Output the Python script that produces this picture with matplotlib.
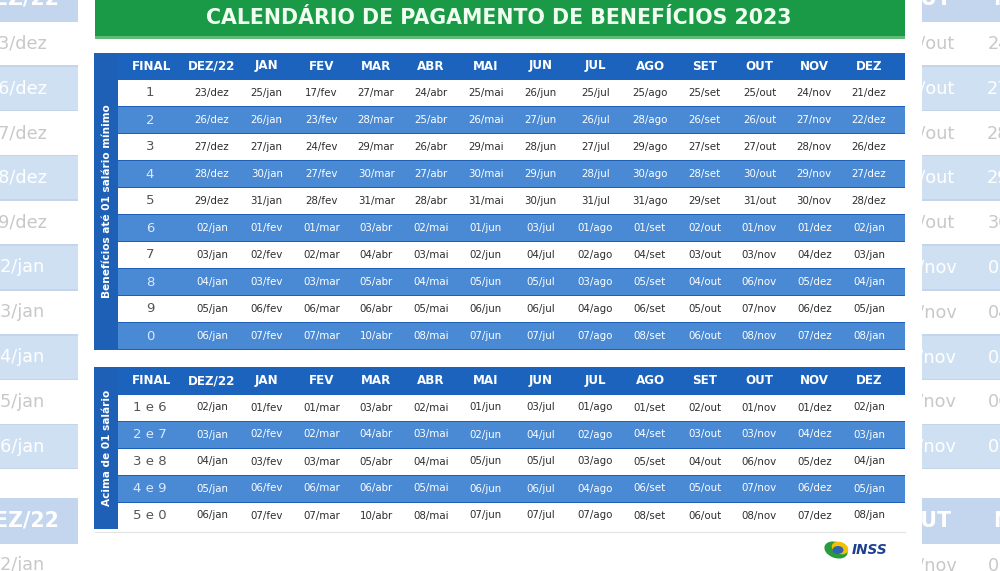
import matplotlib
matplotlib.use('Agg')
import matplotlib.pyplot as plt
from matplotlib.patches import Rectangle, Ellipse

title = 'CALENDÁRIO DE PAGAMENTO DE BENEFÍCIOS 2023'
months = ['DEZ/22', 'JAN', 'FEV', 'MAR', 'ABR', 'MAI', 'JUN', 'JUL', 'AGO', 'SET', 'OUT', 'NOV', 'DEZ']

label_minimo = 'Benefícios até 01 salário mínimo'
finals_minimo = ['1', '2', '3', '4', '5', '6', '7', '8', '9', '0']
pay_minimo = [
    ['23/dez', '25/jan', '17/fev', '27/mar', '24/abr', '25/mai', '26/jun', '25/jul', '25/ago', '25/set', '25/out', '24/nov', '21/dez'],
    ['26/dez', '26/jan', '23/fev', '28/mar', '25/abr', '26/mai', '27/jun', '26/jul', '28/ago', '26/set', '26/out', '27/nov', '22/dez'],
    ['27/dez', '27/jan', '24/fev', '29/mar', '26/abr', '29/mai', '28/jun', '27/jul', '29/ago', '27/set', '27/out', '28/nov', '26/dez'],
    ['28/dez', '30/jan', '27/fev', '30/mar', '27/abr', '30/mai', '29/jun', '28/jul', '30/ago', '28/set', '30/out', '29/nov', '27/dez'],
    ['29/dez', '31/jan', '28/fev', '31/mar', '28/abr', '31/mai', '30/jun', '31/jul', '31/ago', '29/set', '31/out', '30/nov', '28/dez'],
    ['02/jan', '01/fev', '01/mar', '03/abr', '02/mai', '01/jun', '03/jul', '01/ago', '01/set', '02/out', '01/nov', '01/dez', '02/jan'],
    ['03/jan', '02/fev', '02/mar', '04/abr', '03/mai', '02/jun', '04/jul', '02/ago', '04/set', '03/out', '03/nov', '04/dez', '03/jan'],
    ['04/jan', '03/fev', '03/mar', '05/abr', '04/mai', '05/jun', '05/jul', '03/ago', '05/set', '04/out', '06/nov', '05/dez', '04/jan'],
    ['05/jan', '06/fev', '06/mar', '06/abr', '05/mai', '06/jun', '06/jul', '04/ago', '06/set', '05/out', '07/nov', '06/dez', '05/jan'],
    ['06/jan', '07/fev', '07/mar', '10/abr', '08/mai', '07/jun', '07/jul', '07/ago', '08/set', '06/out', '08/nov', '07/dez', '08/jan'],
]

label_acima = 'Acima de 01 salário'
finals_acima = ['1 e 6', '2 e 7', '3 e 8', '4 e 9', '5 e 0']
pay_acima = [
    ['02/jan', '01/fev', '01/mar', '03/abr', '02/mai', '01/jun', '03/jul', '01/ago', '01/set', '02/out', '01/nov', '01/dez', '02/jan'],
    ['03/jan', '02/fev', '02/mar', '04/abr', '03/mai', '02/jun', '04/jul', '02/ago', '04/set', '03/out', '03/nov', '04/dez', '03/jan'],
    ['04/jan', '03/fev', '03/mar', '05/abr', '04/mai', '05/jun', '05/jul', '03/ago', '05/set', '04/out', '06/nov', '05/dez', '04/jan'],
    ['05/jan', '06/fev', '06/mar', '06/abr', '05/mai', '06/jun', '06/jul', '04/ago', '06/set', '05/out', '07/nov', '06/dez', '05/jan'],
    ['06/jan', '07/fev', '07/mar', '10/abr', '08/mai', '07/jun', '07/jul', '07/ago', '08/set', '06/out', '08/nov', '07/dez', '08/jan'],
]

HEADER = '#1c63bd'
STRIPE = '#4a89d3'
SIDE = '#1d60b6'
TXT = '#2e2e2e'
ROW_H = 27
LEFT, SIDE_W, RIGHT = 94, 24, 905


def col_x(i):
    return 212 + 54.75 * i


def draw_block(ax, top, side_label, finals, pay, k=1.0):
    n = len(finals)
    bottom = top + ROW_H * (n + 1)
    ax.add_patch(Rectangle((LEFT, top), RIGHT - LEFT, bottom - top, color=SIDE, lw=0))
    ax.add_patch(Rectangle((LEFT + SIDE_W, top), RIGHT - LEFT - SIDE_W, ROW_H, color=HEADER, lw=0))
    yh = top + ROW_H / 2
    ax.text(152, yh, 'FINAL', color='white', fontsize=8.6 * k, fontweight='bold', ha='center', va='center')
    for i, m in enumerate(months):
        ax.text(col_x(i), yh, m, color='white', fontsize=8.6 * k, fontweight='bold', ha='center', va='center')
    for r in range(n):
        y0 = top + ROW_H * (r + 1)
        blue = r % 2 == 1
        ax.add_patch(Rectangle((LEFT + SIDE_W, y0 + 0.5), RIGHT - LEFT - SIDE_W, ROW_H - 1,
                               color=STRIPE if blue else 'white', lw=0))
        c = 'white' if blue else TXT
        yc = y0 + ROW_H / 2
        ax.text(150, yc, finals[r], color='#dce9f8' if blue else '#555555', fontsize=9.5 * k,
                ha='center', va='center')
        for i, v in enumerate(pay[r]):
            ax.text(col_x(i), yc, v, color=c, fontsize=7.4 * k, ha='center', va='center')
    ax.text(LEFT + SIDE_W / 2 + 1, (top + bottom) / 2, side_label, color='white', fontsize=7.6 * k,
            fontweight='bold', rotation=90, ha='center', va='center')


fig = plt.figure(figsize=(10, 5.71), dpi=100)

# enlarged, faded copy of the table behind the white panel
scale = 1.66
ax_bg = fig.add_axes([0, 0, 1, 1])
draw_block(ax_bg, 52.5, label_minimo, finals_minimo, pay_minimo, k=1.72)
draw_block(ax_bg, 367, label_acima, finals_acima, pay_acima, k=1.72)
ax_bg.set_xlim(334 / scale, (1000 + 334) / scale)
ax_bg.set_ylim((571 + 111) / scale, 111 / scale)
ax_bg.add_patch(Rectangle((0, 0), 1, 1, transform=ax_bg.transAxes, color='white', alpha=0.74, lw=0, zorder=10))
ax_bg.axis('off')

ax = fig.add_axes([0, 0, 1, 1])
ax.patch.set_alpha(0)
ax.set_xlim(0, 1000)
ax.set_ylim(571, 0)
ax.axis('off')

ax.add_patch(Rectangle((78, 0), 844, 571, color='white', lw=0))
ax.add_patch(Rectangle((95, 0), 810, 38, color='#1a9a46', lw=0))
ax.add_patch(Rectangle((95, 35.5), 810, 3, color='#62bb78', lw=0))
ax.text(499, 17.5, title, color='#effff0', fontsize=14.8, fontweight='bold', ha='center', va='center')

draw_block(ax, 52.5, label_minimo, finals_minimo, pay_minimo)
draw_block(ax, 367, label_acima, finals_acima, pay_acima)

ax.plot([95, 905], [532, 532], color='#e3e3e3', lw=0.8)

# INSS logo
ax.add_patch(Ellipse((836, 550), 24, 16, angle=20, color='#2a9a3c', lw=0))
ax.add_patch(Ellipse((840, 548), 17, 12, angle=20, color='#f2c200', lw=0))
ax.add_patch(Ellipse((838, 550), 11, 8, color='#2f62b0', lw=0))
ax.text(852, 550, 'INSS', color='#1d3f8f', fontsize=9.8, fontweight='bold', style='italic',
        ha='left', va='center')

plt.savefig('out.png', dpi=100)
